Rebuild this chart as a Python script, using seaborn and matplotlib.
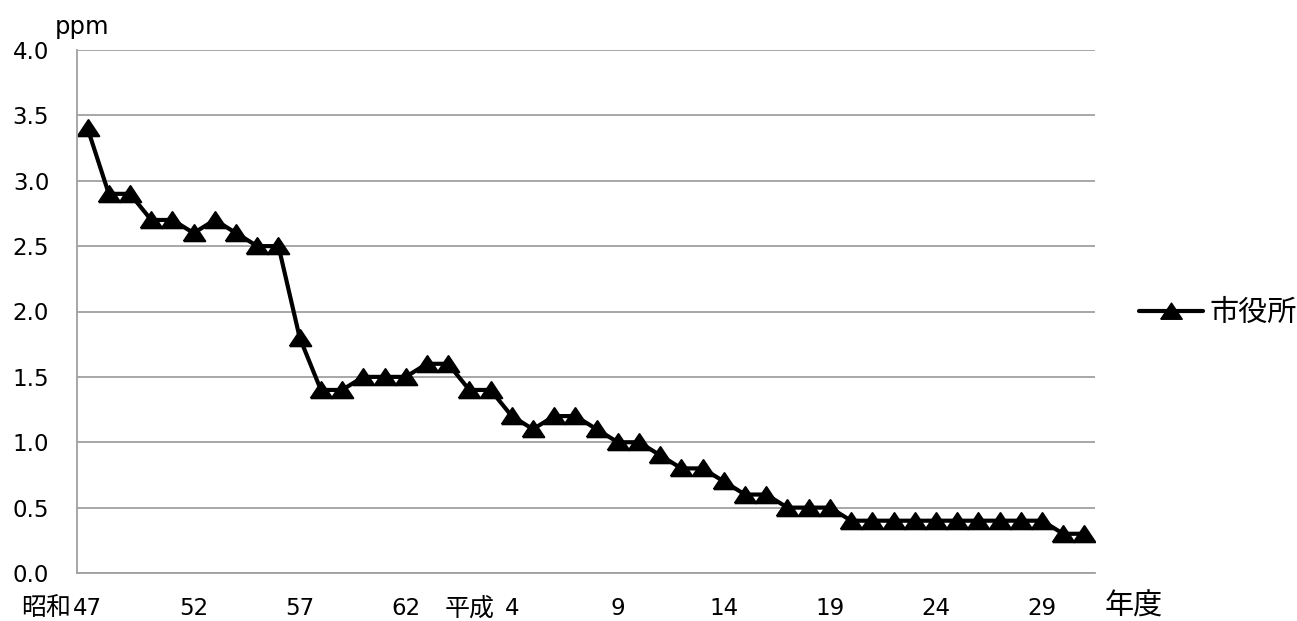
import matplotlib
matplotlib.use('Agg')
import matplotlib.pyplot as plt
import seaborn as sns
from matplotlib.lines import Line2D

# 年度 (昭和47 ～ 令和元) and annual mean values
years = list(range(1972, 2020))
values = [3.4, 2.9, 2.9, 2.7, 2.7, 2.6, 2.7, 2.6, 2.5, 2.5,
          1.8, 1.4, 1.4, 1.5, 1.5, 1.5, 1.6, 1.6, 1.4, 1.4,
          1.2, 1.1, 1.2, 1.2, 1.1, 1.0, 1.0, 0.9, 0.8, 0.8,
          0.7, 0.6, 0.6, 0.5, 0.5, 0.5, 0.4, 0.4, 0.4, 0.4,
          0.4, 0.4, 0.4, 0.4, 0.4, 0.4, 0.3, 0.3]
tick_idx = [0, 5, 10, 15, 20, 25, 30, 35, 40, 45]
tick_labels = ['47', '52', '57', '62', '4', '9', '14', '19', '24', '29']
series_name = '市役所'

sns.set_style('white')
plt.rcParams['font.family'] = ['DejaVu Sans', 'Noto Sans CJK JP']
plt.rcParams['text.color'] = 'black'
plt.rcParams['xtick.labelcolor'] = 'black'
plt.rcParams['ytick.labelcolor'] = 'black'

# wide, flat triangle like the spreadsheet marker
tri = [(-1, -0.72), (1, -0.72), (0, 0.78), (-1, -0.72)]

fig = plt.figure(figsize=(12.97, 6.21), dpi=100)
ax = fig.add_axes([77/1297, 1-573/621, (1095-77)/1297, (573-50)/621])

pos = list(range(len(years)))
sns.lineplot(x=pos, y=values, ax=ax, color='black', lw=3,
             marker=tri, markersize=15.5, markeredgecolor='black',
             markeredgewidth=1.5, legend=False)

grid_c = '#a0a0a0'
ax.set_ylim(0, 4.0)
ax.set_yticks([i * 0.5 for i in range(9)])
ax.set_yticklabels([f'{i*0.5:.1f}' for i in range(9)])
ax.yaxis.grid(True, color=grid_c, lw=1.3)
ax.set_axisbelow(True)

ax.set_xlim(-0.5, len(years) - 0.5)
ax.set_xticks(tick_idx)
ax.set_xticklabels(tick_labels)
ax.set_xticks([i - 0.5 for i in range(len(years) + 1)], minor=True)
ax.tick_params(axis='x', which='major', length=0, pad=17, labelsize=16.5)
ax.tick_params(axis='x', which='minor', length=6, width=1.3, color=grid_c, direction='out')
ax.tick_params(axis='y', length=5, width=1.3, color=grid_c, pad=15, labelsize=16.5)

for s in ['top', 'right']:
    ax.spines[s].set_visible(False)
for s in ['left', 'bottom']:
    ax.spines[s].set_color(grid_c)
    ax.spines[s].set_linewidth(1.3)

# era prefixes hanging left of the numbers
for i, era in [(0, '昭和'), (20, '平成')]:
    ax.annotate(era, xy=(i, 0), xycoords=('data', 'axes fraction'),
                xytext=(-12, -30.5), textcoords='offset points',
                ha='right', va='baseline', fontsize=18)

fig.text(1105/1297, 1-607/621, '年度', fontsize=21, va='center', ha='left')
fig.text(55/1297, 1-27/621, 'ppm', fontsize=17.5, va='center', ha='left')

handle = Line2D([], [], color='black', lw=3, marker=tri, markersize=15.5)
fig.legend([handle], [series_name], loc='center left', frameon=False,
           bbox_to_anchor=(1113/1297, 1-313/621), fontsize=21,
           handlelength=2.2, handletextpad=0.2)

fig.savefig('out.png', dpi=100)
